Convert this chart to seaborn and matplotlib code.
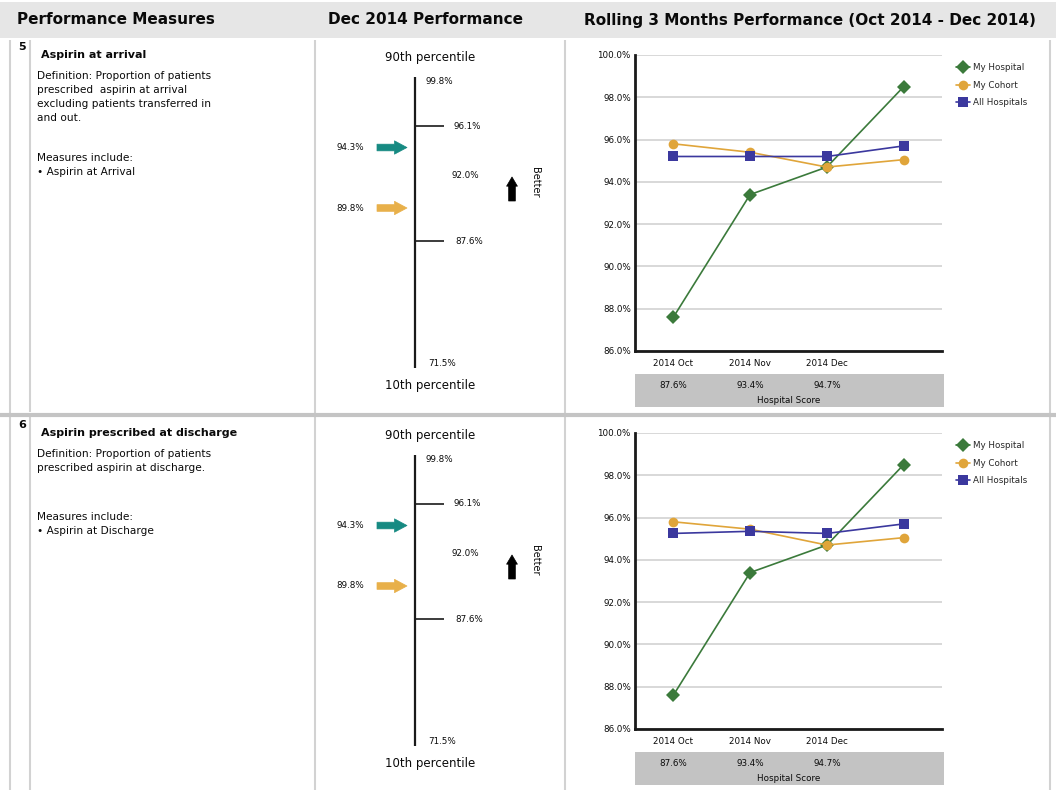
import numpy as np
import pandas as pd
import matplotlib
matplotlib.use("Agg")
import matplotlib.pyplot as plt
import matplotlib.transforms as mtransforms
from matplotlib.patches import Rectangle
import seaborn as sns

# ---------------- data ----------------
headers = ["Performance Measures", "Dec 2014 Performance",
           "Rolling 3 Months Performance (Oct 2014 - Dec 2014)"]

periods = ["2014 Oct", "2014 Nov", "2014 Dec", ""]
series_names = ["My Hospital", "My Cohort", "All Hospitals"]

m5_number = "5"
m5_title = "Aspirin at arrival"
m5_definition = ["Definition: Proportion of patients",
                 "prescribed  aspirin at arrival",
                 "excluding patients transferred in",
                 "and out."]
m5_includes = ["Aspirin at Arrival"]
m5_hospital = [87.6, 93.4, 94.7, 98.5]
m5_cohort = [95.8, 95.4, 94.7, 95.05]
m5_all = [95.2, 95.2, 95.2, 95.7]

m6_number = "6"
m6_title = "Aspirin prescribed at discharge"
m6_definition = ["Definition: Proportion of patients",
                 "prescribed aspirin at discharge."]
m6_includes = ["Aspirin at Discharge"]
m6_hospital = [87.6, 93.4, 94.7, 98.5]
m6_cohort = [95.8, 95.45, 94.7, 95.05]
m6_all = [95.25, 95.35, 95.25, 95.7]

# Dec 2014 percentile ladder (90th .. 10th)
percentile_values = [99.8, 96.1, 92.0, 87.6, 71.5]
percentile_ticked = [96.1, 87.6]
dec_hospital = 94.3
dec_cohort = 89.8
n_scored = 3  # months listed in the Hospital Score strip

# ---------------- style ----------------
sns.set_theme(style="white")
plt.rcParams["font.family"] = ["DejaVu Sans"]

C_HOSP = "#3b7a3b"
C_COH = "#e0a53a"
C_ALL = "#3b389e"
C_TEAL = "#168a82"
C_ORANGE = "#e8b04a"
C_DIV = "#d2d2d2"
TXT = "#0a0a0a"

W, H = 1056, 790
fig = plt.figure(figsize=(W / 100, H / 100), dpi=100)


def box(x0, y0, x1, y1):
    return [x0 / W, 1 - y1 / H, (x1 - x0) / W, (y1 - y0) / H]


page = fig.add_axes([0, 0, 1, 1])
page.set_xlim(0, W)
page.set_ylim(H, 0)
page.axis("off")

# header band
page.add_patch(Rectangle((0, 2), W, 36, color="#e6e6e6", lw=0))
page.text(17, 20, headers[0], fontsize=11, fontweight="bold", va="center", color=TXT)
page.text(426, 20, headers[1], fontsize=11, fontweight="bold", va="center", ha="center", color=TXT)
page.text(584, 20, headers[2], fontsize=11, fontweight="bold", va="center", color=TXT)

# table rules
for x in [10, 315, 565, 1050]:
    page.vlines(x, 40, H, color=C_DIV, lw=1.5)
page.vlines(30, 40, 412, color=C_DIV, lw=1.5)
page.vlines(30, 417, H, color=C_DIV, lw=1.5)
page.hlines(414.5, 0, W, color="#c4c4c4", lw=3)

# piecewise scale for the percentile ladder
stop_vals = np.array(sorted(percentile_values))
stop_pos = np.array([0, 127, 193, 242, 291], dtype=float)


def ladder_fwd(v):
    return np.interp(v, stop_vals, stop_pos)


def ladder_inv(p):
    return np.interp(p, stop_pos, stop_vals)


rows = [
    dict(number=m5_number, title=m5_title, definition=m5_definition,
         includes=m5_includes, hospital=m5_hospital, cohort=m5_cohort,
         all=m5_all, dy=0, inc_y=158),
    dict(number=m6_number, title=m6_title, definition=m6_definition,
         includes=m6_includes, hospital=m6_hospital, cohort=m6_cohort,
         all=m6_all, dy=378, inc_y=139),
]

for row in rows:
    dy = row["dy"]

    # ---- measure description ----
    page.text(18, 47 + dy, row["number"], fontsize=8, fontweight="bold", va="center", color=TXT)
    page.text(41, 55 + dy, row["title"], fontsize=8, fontweight="bold", va="center", color=TXT)
    for i, line in enumerate(row["definition"]):
        page.text(37, 76 + dy + 14 * i, line, fontsize=7.6, va="center", color=TXT)
    page.text(37, row["inc_y"] + dy, "Measures include:", fontsize=7.6, va="center", color=TXT)
    for i, item in enumerate(row["includes"]):
        page.text(37, row["inc_y"] + dy + 14 * (i + 1), "\u2022 " + item, fontsize=7.6,
                  va="center", color=TXT)

    # ---- percentile ladder ----
    page.text(430, 58 + dy, "90th percentile", fontsize=8.5, ha="center", va="center", color=TXT)
    page.text(430, 385 + dy, "10th percentile", fontsize=8.5, ha="center", va="center", color=TXT)

    sc = fig.add_axes(box(316, 77 + dy, 565, 368 + dy))
    sc.set_facecolor("none")
    sc.set_yscale("function", functions=(ladder_fwd, ladder_inv))
    sc.set_xlim(316, 565)
    sc.set_ylim(stop_vals[0], stop_vals[-1])
    sc.axis("off")
    sc.vlines(415, stop_vals[0], stop_vals[-1], color="#1a1a1a", lw=1.6, clip_on=False)
    sc.hlines(percentile_ticked, 415, 444, color="#1a1a1a", lw=1.2, clip_on=False)
    label_x = [425, 453, 452, 455, 428]
    label_va = ["top", "center", "center", "center", "bottom"]
    for v, lx, va in zip(percentile_values, label_x, label_va):
        sc.text(lx, v, f"{v:.1f}%", fontsize=6.3, ha="left", va=va, color=TXT, clip_on=False)

    for v, col in [(dec_hospital, C_TEAL), (dec_cohort, C_ORANGE)]:
        sc.annotate("", xy=(407, v), xytext=(377, v),
                    arrowprops=dict(arrowstyle="simple,head_length=0.75,head_width=0.8,tail_width=0.4",
                                    fc=col, ec=col, lw=0.5, shrinkA=0, shrinkB=0))
        sc.text(350, v, f"{v:.1f}%", fontsize=6.3, ha="center", va="center", color=TXT)

    # "Better" direction marker
    page.annotate("", xy=(512, 177 + dy), xytext=(512, 201 + dy),
                  arrowprops=dict(arrowstyle="simple,head_length=0.55,head_width=0.65,tail_width=0.4",
                                  fc="black", ec="black", lw=0.5, shrinkA=0, shrinkB=0))
    page.text(535, 182 + dy, "Better", fontsize=7, rotation=270, ha="center", va="center", color=TXT)

    # ---- rolling 3 months line chart ----
    ax = fig.add_axes(box(635, 55 + dy, 942, 351 + dy))
    ax.set_facecolor("none")
    df = pd.DataFrame({
        "period": np.tile(np.arange(len(periods)), 3),
        "value": row["hospital"] + row["cohort"] + row["all"],
        "series": np.repeat(series_names, len(periods)),
    })
    sns.lineplot(data=df, x="period", y="value", hue="series", style="series",
                 hue_order=series_names, style_order=series_names,
                 palette=[C_HOSP, C_COH, C_ALL],
                 markers={"My Hospital": "D", "My Cohort": "o", "All Hospitals": "s"},
                 dashes=False, markersize=7, markeredgewidth=0, linewidth=1.2, ax=ax)
    ax.set_xlim(-0.5, 3.5)
    ax.set_ylim(86, 100)
    ax.set_yticks(np.arange(86, 100.1, 2))
    ax.yaxis.set_major_formatter(matplotlib.ticker.StrMethodFormatter("{x:.1f}%"))
    ax.set_xticks(range(len(periods)))
    ax.set_xticklabels(periods)
    ax.set_xlabel("")
    ax.set_ylabel("")
    ax.grid(axis="y", color="#d2d2d2", lw=1.2)
    ax.grid(axis="x", visible=False)
    ax.set_axisbelow(True)
    for s in ["top", "right"]:
        ax.spines[s].set_visible(False)
    for s in ["left", "bottom"]:
        ax.spines[s].set_color("#1a1a1a")
        ax.spines[s].set_linewidth(2)
    ax.tick_params(axis="both", length=0, labelsize=6.3, colors=TXT)
    ax.tick_params(axis="x", pad=6)
    ax.tick_params(axis="y", pad=3)

    # hospital score strip
    ax.add_patch(Rectangle((0, -0.19), 1.007, 0.112, transform=ax.transAxes,
                           color="#c3c3c3", lw=0, clip_on=False))
    blend = mtransforms.blended_transform_factory(ax.transData, ax.transAxes)
    for i in range(n_scored):
        ax.text(i, -0.118, f"{row['hospital'][i]:.1f}%", transform=blend,
                fontsize=6.3, ha="center", va="center", color=TXT)
    ax.text(0.5, -0.168, "Hospital Score", transform=ax.transAxes,
            fontsize=6.3, ha="center", va="center", color=TXT)

    handles, labels = ax.get_legend_handles_labels()
    ax.legend(handles, labels, loc="upper left", bbox_to_anchor=(1.035, 0.985),
              frameon=False, fontsize=6.3, handlelength=1.6, handletextpad=0.3,
              labelspacing=1.0, borderaxespad=0)

fig.savefig("out.png", dpi=100)
